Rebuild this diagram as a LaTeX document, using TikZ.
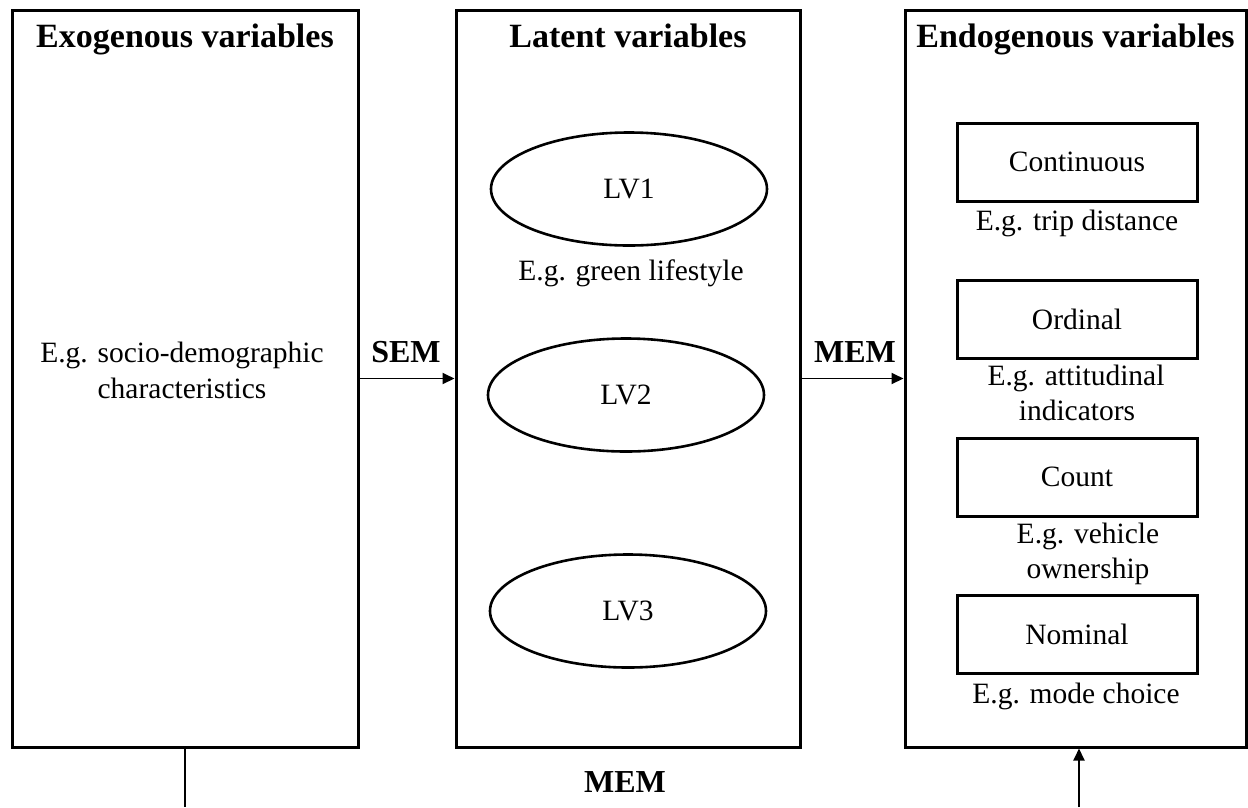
\documentclass[tikz,border=0pt]{standalone}
\usepackage{fontspec}
\setmainfont{Liberation Serif}
\usetikzlibrary{arrows.meta,shapes.geometric}
\begin{document}
\begin{tikzpicture}[x=1pt,y=-1pt,
  panel/.style={draw, line width=3pt, rectangle, inner sep=0pt,
    minimum height=737pt},
  lv/.style={draw, line width=2.6pt, ellipse, inner sep=0pt,
    minimum width=276pt, minimum height=113pt, font=\fontsize{29.5}{35}\selectfont},
  kind/.style={draw, line width=3pt, rectangle, inner sep=0pt,
    minimum width=240pt, minimum height=78pt, font=\fontsize{29.5}{35}\selectfont},
  title/.style={anchor=base, inner sep=0pt, font=\fontsize{34}{40}\selectfont\bfseries},
  tag/.style={anchor=base, inner sep=0pt, font=\fontsize{32}{38}\selectfont\bfseries},
  note/.style={anchor=base, inner sep=0pt, font=\fontsize{29.5}{35}\selectfont},
  link/.style={line width=1.9pt, -{Triangle[length=12pt,width=11pt]}},
  plain/.style={line width=1.9pt}]
\useasboundingbox (0,0) rectangle (1248,807);

% three panels
\node[panel, minimum width=346pt] (exo) at (185,378.5) {};
\node[panel, minimum width=344pt] (lat) at (628,378.5) {};
\node[panel, minimum width=341pt] (endo) at (1075.5,378.5) {};

% panel titles
\node[title] (exoT) at (185,47) {Exogenous variables};
\node[title] (latT) at (628,47) {Latent variables};
\node[title] (endoT) at (1075.5,47) {Endogenous variables};

% exogenous panel
\node[note] (exoA) at (182,362) {E.g. socio-demographic};
\node[note] (exoB) at (182,398) {characteristics};

% latent panel
\node[lv] (lv1) at (629,189) {LV1};
\node[note] (lv1n) at (631,280) {E.g. green lifestyle};
\node[lv] (lv2) at (626,395) {LV2};
\node[lv] (lv3) at (628,611) {LV3};

% endogenous panel
\node[kind] (cont) at (1077,162) {Continuous};
\node[note] (contn) at (1077,230) {E.g. trip distance};
\node[kind] (ord) at (1077,319) {Ordinal};
\node[note] (ordA) at (1076,385) {E.g. attitudinal};
\node[note] (ordB) at (1077,420) {indicators};
\node[kind] (cnt) at (1077,477) {Count};
\node[note] (cntA) at (1088,543) {E.g. vehicle};
\node[note] (cntB) at (1088,578) {ownership};
\node[kind] (nom) at (1077,634.5) {Nominal};
\node[note] (nomn) at (1076,703) {E.g. mode choice};

% connectors
\draw[link] (exo.east) -- (lat.west);
\node[tag] (sem) at (406,362) {SEM};
\draw[link] (lat.east) -- (endo.west);
\node[tag] (mem) at (855,362) {MEM};

\coordinate (exoFoot) at (185,807);
\coordinate (endoFoot) at (1079,807);
\draw[plain] (exo.south) -- (exoFoot);
\draw[link] (endoFoot) -- (endoFoot |- endo.south);
\node[tag] (memB) at (625,792) {MEM};
\end{tikzpicture}
\end{document}
